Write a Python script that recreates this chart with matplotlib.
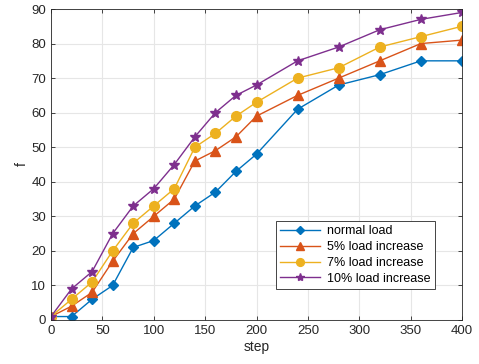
import matplotlib
matplotlib.use("Agg")
import matplotlib.pyplot as plt

plt.rcParams['font.family'] = ['Liberation Sans', 'DejaVu Sans']

steps = [0, 20, 40, 60, 80, 100, 120, 140, 160, 180, 200, 240, 280, 320, 360, 400]
normal = [1, 1, 6, 10, 21, 23, 28, 33, 37, 43, 48, 61, 68, 71, 75, 75]
inc5 = [1, 4, 8, 17, 25, 30, 35, 46, 49, 53, 59, 65, 70, 75, 80, 81]
inc7 = [1, 6, 11, 20, 28, 33, 38, 50, 54, 59, 63, 70, 73, 79, 82, 85]
inc10 = [1, 9, 14, 25, 33, 38, 45, 53, 60, 65, 68, 75, 79, 84, 87, 89]

labels = ['normal load', '5% load increase', '7% load increase', '10% load increase']
colors = ['#0072BD', '#D95319', '#EDB120', '#7E2F8E']
markers = ['D', '^', 'o', '*']
sizes = [5.5, 6.5, 7, 7.5]

fig = plt.figure(figsize=(4.79, 3.64), dpi=100)
ax = fig.add_axes([51 / 479, 1 - 320 / 364, (462 - 51) / 479, (320 - 9) / 364])

for ys, lab, c, m, s in zip([normal, inc5, inc7, inc10], labels, colors, markers, sizes):
    ax.plot(steps, ys, color=c, marker=m, markersize=s, linewidth=1.0, label=lab,
            markerfacecolor=c, markeredgecolor=c)

ax.set_xlim(0, 400)
ax.set_ylim(0, 90)
ax.set_xticks(range(0, 401, 50))
ax.set_yticks(range(0, 91, 10))
ax.grid(True, color='#e6e6e6', linewidth=0.8)
ax.set_axisbelow(True)
ax.tick_params(direction='in', top=True, right=True, labelsize=9.5, colors='#262626',
               length=3, width=0.6)
for sp in ax.spines.values():
    sp.set_color('#262626')
    sp.set_linewidth(0.6)
ax.set_xlabel('step', fontsize=10, color='#262626', labelpad=2)
ax.set_ylabel('f', fontsize=10, color='#262626', labelpad=2)

leg = ax.legend(loc='lower left', bbox_to_anchor=((276 - 51) / 411, (320 - 289) / 311),
                fontsize=9, fancybox=False, edgecolor='#262626', framealpha=1,
                handlelength=3.2, borderpad=0.35, labelspacing=0.3, handletextpad=0.5,
                borderaxespad=0, markerscale=0.8)
leg.get_frame().set_linewidth(0.6)

fig.savefig('out.png', dpi=100)
